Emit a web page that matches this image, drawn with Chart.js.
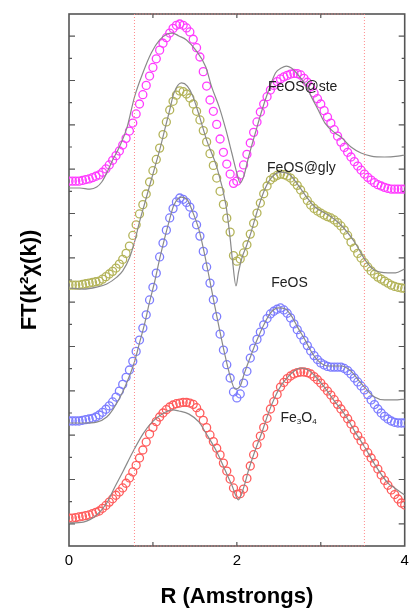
<!DOCTYPE html>
<html lang="en">
<head>
<meta charset="UTF-8">
<title>FT(k2 chi(k)) vs R</title>
<script src="https://cdn.jsdelivr.net/npm/chart.js"></script>
<style>
    html, body { margin: 0; padding: 0; background: #fff; }
    canvas { display: block; }
</style>
</head>
<body>
<canvas id="ftChart" width="410" height="610"></canvas>
<script>
// --- data (R in Angstrom, FT in stacked arbitrary units) ---
const rGrid = [0.00,0.04,0.08,0.12,0.16,0.20,0.24,0.28,0.32,0.36,0.40,0.44,0.48,0.52,0.56,0.60,0.64,0.68,0.72,0.76,
    0.80,0.84,0.88,0.92,0.96,1.00,1.04,1.08,1.12,1.16,1.20,1.24,1.28,1.32,1.36,1.40,1.44,1.48,1.52,1.56,
    1.60,1.64,1.68,1.72,1.76,1.80,1.84,1.88,1.92,1.96,2.00,2.04,2.08,2.12,2.16,2.20,2.24,2.28,2.32,2.36,
    2.40,2.44,2.48,2.52,2.56,2.60,2.64,2.68,2.72,2.76,2.80,2.84,2.88,2.92,2.96,3.00,3.04,3.08,3.12,3.16,
    3.20,3.24,3.28,3.32,3.36,3.40,3.44,3.48,3.52,3.56,3.60,3.64,3.68,3.72,3.76,3.80,3.84,3.88,3.92,3.96,
    4.00];

const steData = [16.46,16.46,16.46,16.46,16.49,16.53,16.56,16.62,16.68,16.74,
    16.86,17.01,17.19,17.40,17.61,17.82,18.09,18.39,18.72,19.08,
    19.49,19.94,20.36,20.78,21.20,21.59,21.98,22.37,22.68,22.93,
    23.14,23.35,23.49,23.55,23.49,23.37,23.19,22.86,22.48,22.06,
    21.40,20.75,20.12,19.61,19.02,18.36,17.76,17.23,16.78,16.36,
    16.46,16.74,17.19,17.67,18.18,18.66,19.13,19.58,19.94,20.27,
    20.57,20.78,20.95,21.07,21.16,21.23,21.29,21.32,21.31,21.25,
    21.10,20.92,20.71,20.44,20.18,19.94,19.64,19.35,19.08,18.78,
    18.49,18.22,17.98,17.76,17.55,17.34,17.14,16.96,16.78,16.63,
    16.51,16.39,16.30,16.24,16.18,16.13,16.10,16.10,16.10,16.10,
    16.10];
const glyData = [11.77,11.77,11.77,11.77,11.80,11.83,11.86,11.89,11.92,11.95,
    12.04,12.15,12.27,12.39,12.54,12.72,12.93,13.20,13.53,14.01,
    14.49,14.98,15.40,15.88,16.42,16.93,17.44,17.95,18.56,19.13,
    19.67,20.06,20.34,20.53,20.50,20.39,20.21,19.94,19.61,19.22,
    18.74,18.23,17.70,17.17,16.60,16.00,15.41,14.79,14.16,13.10,
    12.85,12.95,13.22,13.59,14.07,14.56,15.02,15.47,15.89,16.24,
    16.51,16.63,16.72,16.78,16.75,16.69,16.60,16.45,16.27,16.06,
    15.82,15.59,15.38,15.23,15.11,15.02,14.93,14.86,14.80,14.71,
    14.59,14.44,14.25,14.01,13.71,13.44,13.20,12.99,12.78,12.59,
    12.41,12.26,12.13,12.04,11.95,11.86,11.77,11.71,11.67,11.64,
    11.62];
const feosData = [5.64,5.64,5.64,5.64,5.67,5.70,5.73,5.76,5.82,5.91,
    6.03,6.17,6.32,6.50,6.72,6.99,7.29,7.61,7.94,8.33,
    8.78,9.29,9.83,10.43,11.10,11.67,12.31,13.04,13.67,14.25,
    14.80,15.22,15.52,15.70,15.64,15.50,15.29,14.93,14.49,13.98,
    13.29,12.59,11.86,11.11,10.35,9.56,8.84,8.18,7.58,6.95,
    6.68,6.86,7.35,7.88,8.48,8.93,9.32,9.65,9.98,10.26,
    10.47,10.59,10.68,10.74,10.65,10.50,10.29,10.02,9.76,9.52,
    9.28,9.04,8.80,8.59,8.41,8.26,8.17,8.10,8.07,8.07,
    8.07,8.07,8.01,7.91,7.76,7.58,7.40,7.22,7.04,6.83,
    6.59,6.38,6.18,6.00,5.85,5.73,5.64,5.58,5.55,5.55,
    5.55];
const fe3o4Data = [1.26,1.26,1.28,1.31,1.34,1.37,1.40,1.46,1.52,1.58,
    1.70,1.83,1.98,2.13,2.29,2.44,2.62,2.83,3.07,3.34,
    3.64,3.97,4.33,4.69,5.05,5.35,5.61,5.82,6.00,6.15,
    6.27,6.36,6.42,6.45,6.48,6.48,6.45,6.39,6.24,6.00,
    5.67,5.34,5.01,4.71,4.41,4.11,3.74,3.38,3.02,2.62,
    2.33,2.36,2.57,3.05,3.61,4.12,4.57,4.96,5.35,5.76,
    6.18,6.51,6.84,7.17,7.38,7.55,7.67,7.76,7.82,7.85,
    7.85,7.82,7.76,7.64,7.50,7.35,7.17,6.99,6.81,6.60,
    6.39,6.18,5.97,5.74,5.50,5.23,4.98,4.74,4.47,4.21,
    3.97,3.73,3.47,3.20,2.96,2.74,2.53,2.32,2.12,1.94,
    1.85];

// fits (grey lines)
const steFitR = [0,0.13,0.25,0.33,0.39,0.45,0.52,0.60,0.69,0.78,0.88,0.98,1.08,1.17,1.23,1.31,1.40,1.51,1.63,1.70,
    1.79,1.87,1.94,2.00,2.04,2.08,2.14,2.22,2.30,2.38,2.46,2.53,2.59,2.65,2.73,2.82,2.89,2.97,3.05,3.17,
    3.24,3.36,3.48,3.60,3.76,3.92,4.0];
const steFitY = [16.15,16.15,16.10,16.19,16.42,16.83,17.41,18.00,18.86,20.25,21.34,22.24,22.83,23.10,23.14,23.01,22.83,22.37,21.61,20.71,
    19.80,18.77,17.73,16.83,16.38,16.65,17.55,18.63,19.67,20.57,21.34,21.56,21.65,21.56,21.25,20.80,20.25,19.67,19.08,18.63,
    18.45,18.00,17.73,17.59,17.55,17.59,17.64];
const glyFitR = [0,0.17,0.33,0.45,0.57,0.64,0.72,0.78,0.84,0.90,0.96,1.02,1.08,1.14,1.20,1.25,1.34,1.41,1.47,1.55,
    1.64,1.76,1.87,1.92,1.95,1.99,2.02,2.06,2.11,2.17,2.24,2.32,2.40,2.52,2.62,2.73,2.85,2.93,3.09,3.24,
    3.41,3.53,3.64,3.80,3.89,4.0];
const glyFitY = [11.64,11.59,11.68,11.82,12.13,12.41,12.99,13.71,14.62,15.43,16.24,17.05,17.86,18.77,19.67,20.43,20.89,20.75,20.34,19.44,
    18.31,17.10,15.38,13.89,12.81,11.73,12.36,12.99,13.49,14.16,15.07,15.97,16.56,16.87,16.78,16.28,15.65,15.29,14.93,14.48,
    13.67,12.90,12.45,12.32,12.32,12.50];
const feosFitR = [0,0.17,0.33,0.45,0.52,0.64,0.72,0.78,0.84,0.90,0.96,1.02,1.08,1.14,1.20,1.25,1.34,1.41,1.47,1.55,
    1.61,1.67,1.73,1.79,1.85,1.91,1.98,2.04,2.09,2.17,2.24,2.32,2.40,2.50,2.58,2.65,2.73,2.82,2.89,2.97,
    3.09,3.24,3.36,3.44,3.53,3.64,3.76,3.88,4.0];
const feosFitY = [5.55,5.55,5.59,5.82,6.14,6.95,7.67,8.30,9.16,10.01,11.01,11.91,12.95,13.89,14.75,15.38,15.74,15.61,15.11,14.25,
    13.26,12.13,10.96,9.83,8.75,7.80,7.08,7.22,7.80,8.62,9.29,9.97,10.51,10.74,10.69,10.38,9.83,9.25,8.75,8.35,
    8.12,8.12,7.89,7.53,7.13,6.72,6.59,6.59,6.63];
const fe3o4FitR = [0,0.17,0.33,0.45,0.54,0.64,0.76,0.88,0.99,1.11,1.23,1.31,1.43,1.55,1.63,1.75,1.87,1.94,2.02,2.08,
    2.14,2.22,2.30,2.38,2.46,2.53,2.62,2.70,2.77,2.85,2.93,3.05,3.17,3.29,3.41,3.53,3.64,3.80,3.88,4.0];
const fe3o4FitY = [1.04,1.08,1.40,1.94,2.62,3.34,4.24,5.05,5.59,5.95,6.14,6.09,5.95,5.59,5.10,4.33,3.34,2.75,2.08,2.62,
    3.43,4.33,5.14,6.04,6.77,7.26,7.67,7.94,8.03,7.94,7.67,7.13,6.50,5.91,5.14,4.42,3.70,2.84,2.62,2.30];

// FT window limits
const windowR = [0.78, 3.52];

// axis ranges and tick labels
const xRange = [0, 4];
const yRange = [0, 24];
const xTickLabels = ['0', '', '2', '', '4'];

// sample names and where they are written (data coords)
const sampleNames = ['FeOS@ste', 'FeOS@gly', 'FeOS', 'Fe3O4'];
const nameR = [2.37, 2.36, 2.41, 2.52];
const nameY = [20.7, 17.05, 11.86, 5.77];

Chart.defaults.font.family = "'Liberation Sans', Arial, sans-serif";

function pts(xs, ys) {
    return xs.map((x, i) => ({ x: x, y: ys[i] }));
}

function markerSet(label, data, color) {
    return {
        type: 'scatter',
        label: label,
        data: pts(rGrid, data),
        showLine: false,
        pointStyle: 'circle',
        pointRadius: 4,
        pointBorderWidth: 1.3,
        pointBorderColor: color,
        pointBackgroundColor: 'rgba(0,0,0,0)',
        order: 5
    };
}

function fitSet(xs, ys) {
    return {
        type: 'line',
        data: pts(xs, ys),
        borderColor: '#8a8a8a',
        borderWidth: 1.2,
        pointRadius: 0,
        cubicInterpolationMode: 'monotone',
        fill: false,
        order: 1
    };
}

const windowSet = {
    type: 'line',
    data: pts([windowR[0], windowR[0], windowR[1], windowR[1], windowR[0]],
              [yRange[0], yRange[1], yRange[1], yRange[0], yRange[0]]),
    borderColor: '#ff8a8a',
    borderWidth: 1,
    borderDash: [1, 2],
    pointRadius: 0,
    tension: 0,
    fill: false,
    clip: false,
    order: 0
};

// frame with inward ticks, drawn under the data
const frameTicks = {
    id: 'frameTicks',
    beforeDatasetsDraw(chart) {
        const { ctx, chartArea: a, scales: { x, y } } = chart;
        ctx.save();
        ctx.strokeStyle = '#555';
        ctx.lineWidth = 1.6;
        ctx.strokeRect(a.left, a.top, a.right - a.left, a.bottom - a.top);
        ctx.lineWidth = 1.2;
        ctx.beginPath();
        for (let v = yRange[0] + 1; v < yRange[1]; v++) {
            const py = y.getPixelForValue(v);
            const len = v % 2 === 1 ? 6 : 3;
            ctx.moveTo(a.left, py); ctx.lineTo(a.left + len, py);
            ctx.moveTo(a.right, py); ctx.lineTo(a.right - len, py);
        }
        for (let v = xRange[0] + 1; v < xRange[1]; v++) {
            const px = x.getPixelForValue(v);
            ctx.moveTo(px, a.bottom); ctx.lineTo(px, a.bottom - 4);
            ctx.moveTo(px, a.top); ctx.lineTo(px, a.top + 4);
        }
        ctx.stroke();
        ctx.restore();
    },
    afterDatasetsDraw(chart) {
        const { ctx, scales: { x, y } } = chart;
        ctx.save();
        ctx.fillStyle = '#222';
        ctx.textBaseline = 'middle';
        ctx.textAlign = 'left';
        sampleNames.forEach((name, i) => {
            let px = x.getPixelForValue(nameR[i]);
            const py = y.getPixelForValue(nameY[i]);
            if (name === 'Fe3O4') {
                // chemical formula with subscripts
                const parts = [['Fe', false], ['3', true], ['O', false], ['4', true]];
                parts.forEach(([t, sub]) => {
                    ctx.font = sub ? '8px "Liberation Sans", Arial' : '14px "Liberation Sans", Arial';
                    ctx.fillText(t, px, sub ? py + 4 : py);
                    px += ctx.measureText(t).width;
                });
            } else {
                ctx.font = '14px "Liberation Sans", Arial';
                ctx.fillText(name, px, py);
            }
        });
        ctx.restore();
    }
};

new Chart(document.getElementById('ftChart').getContext('2d'), {
    data: {
        datasets: [
            windowSet,
            fitSet(steFitR, steFitY),
            fitSet(glyFitR, glyFitY),
            fitSet(feosFitR, feosFitY),
            fitSet(fe3o4FitR, fe3o4FitY),
            markerSet('FeOS@ste', steData, '#ff3cff'),
            markerSet('FeOS@gly', glyData, '#b4b45a'),
            markerSet('FeOS', feosData, '#7d7dff'),
            markerSet('Fe3O4', fe3o4Data, '#ff5c5c')
        ]
    },
    options: {
        responsive: false,
        animation: false,
        layout: { padding: { top: 14, right: 2, left: 0, bottom: 0 } },
        plugins: {
            legend: { display: false },
            tooltip: { enabled: false }
        },
        scales: {
            x: {
                type: 'linear',
                position: 'bottom',
                min: xRange[0],
                max: xRange[1],
                grid: { display: false, drawTicks: false },
                border: { display: false },
                ticks: {
                    stepSize: 1,
                    autoSkip: false,
                    maxRotation: 0,
                    padding: 6,
                    color: '#000',
                    font: { size: 15 },
                    callback: (v) => xTickLabels[v - xRange[0]]
                },
                title: {
                    display: true,
                    text: 'R (Amstrongs)',
                    color: '#000',
                    font: { size: 22, weight: 'bold' },
                    padding: { top: 0, bottom: 0 }
                },
                afterFit: (s) => { s.height = 64; s.paddingLeft = 0; s.paddingRight = 0; }
            },
            y: {
                type: 'linear',
                min: yRange[0],
                max: yRange[1],
                grid: { display: false, drawTicks: false },
                border: { display: false },
                ticks: { display: false },
                title: {
                    display: true,
                    text: 'FT(k²χ(k))',
                    color: '#000',
                    font: { size: 22, weight: 'bold' },
                    padding: { top: 17, bottom: 0 }
                },
                afterFit: (s) => { s.width = 69; s.paddingTop = 0; s.paddingBottom = 0; }
            }
        }
    },
    plugins: [frameTicks]
});
</script>
</body>
</html>
